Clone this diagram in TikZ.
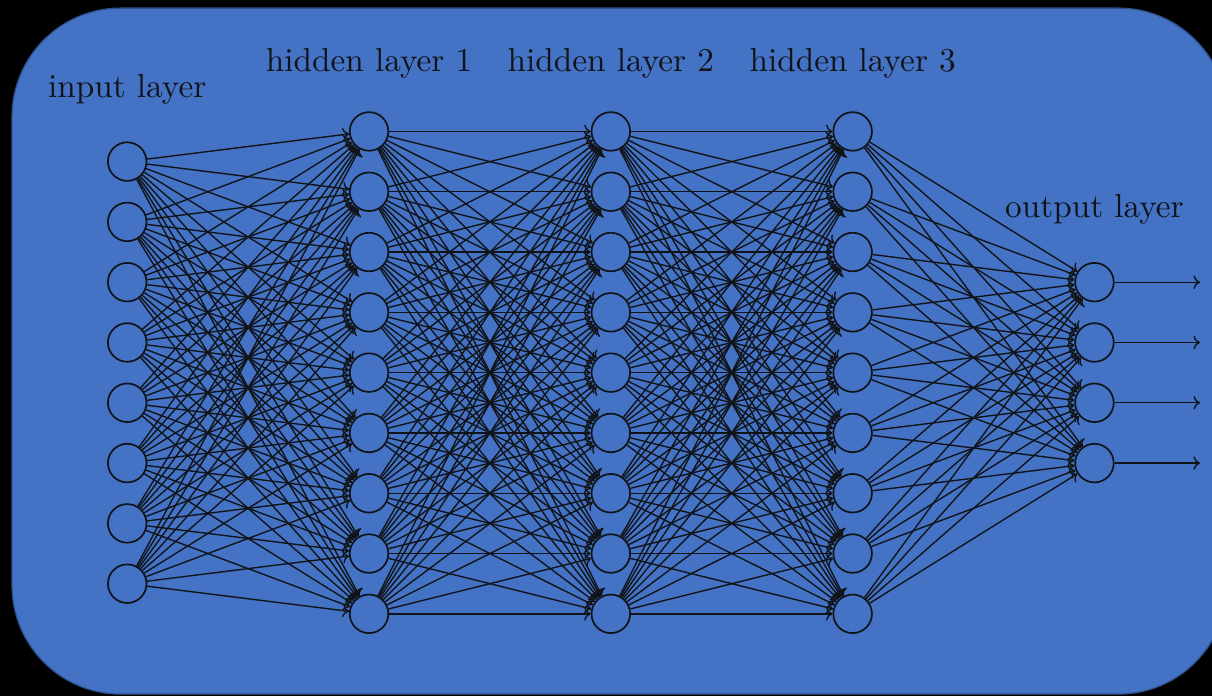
\documentclass[tikz,border=0pt]{standalone}
\usepackage{tikz}
\usetikzlibrary{positioning,arrows.meta,calc}
\definecolor{panel}{HTML}{4472C4}
\definecolor{paneldk}{HTML}{2F528F}
\definecolor{ink}{HTML}{101418}
\tikzset{
  unit/.style={circle, draw=ink, line width=0.8pt, minimum size=0.64cm, inner sep=0pt},
  wire/.style={->, draw=ink, line width=0.65pt},
  lbl/.style={font=\normalsize, scale=1.57, text=ink, anchor=base},
}

\begin{document}
\begin{tikzpicture}[x=1cm,y=1cm]
  % black page with the blue panel
  \fill[black] (0,0) rectangle (20.1,-11.542);
  \useasboundingbox (0,0) rectangle (20.1,-11.542);
  \filldraw[fill=panel, draw=paneldk, line width=0.6pt, rounded corners=1.8cm]
    (0.2,-0.135) rectangle (20.35,-11.51);

  % units, all layers centred on y=-6.18
  \foreach \i in {1,...,8}
    \node[unit] (I-\i) at (2.11,{-6.18-(\i-4.5)}) {};
  \foreach \l/\x in {1/6.12,2/10.13,3/14.14}
    \foreach \i in {1,...,9}
      \node[unit] (H\l-\i) at (\x,{-6.18-(\i-5)}) {};
  \foreach \i in {1,...,4} {
    \node[unit] (O-\i) at (18.15,{-6.18-(\i-2.5)}) {};
    \coordinate (Y-\i) at (19.9,{-6.18-(\i-2.5)});
  }

  % fully connected weights
  \foreach \i in {1,...,8}
    \foreach \j in {1,...,9}
      \draw[wire] (I-\i) -- (H1-\j);
  \foreach \i in {1,...,9}
    \foreach \j in {1,...,9} {
      \draw[wire] (H1-\i) -- (H2-\j);
      \draw[wire] (H2-\i) -- (H3-\j);
    }
  \foreach \i in {1,...,9}
    \foreach \j in {1,...,4}
      \draw[wire] (H3-\i) -- (O-\j);
  \foreach \i in {1,...,4}
    \draw[wire] (O-\i) -- (Y-\i);

  % layer names
  \node[lbl] (lin) at (2.11,-1.609) {input layer};
  \node[lbl] (lh1) at (6.12,-1.194) {hidden layer 1};
  \node[lbl] (lh2) at (10.13,-1.194) {hidden layer 2};
  \node[lbl] (lh3) at (14.14,-1.194) {hidden layer 3};
  \node[lbl] (lout) at (18.15,-3.599) {output layer};
\end{tikzpicture}
\end{document}
